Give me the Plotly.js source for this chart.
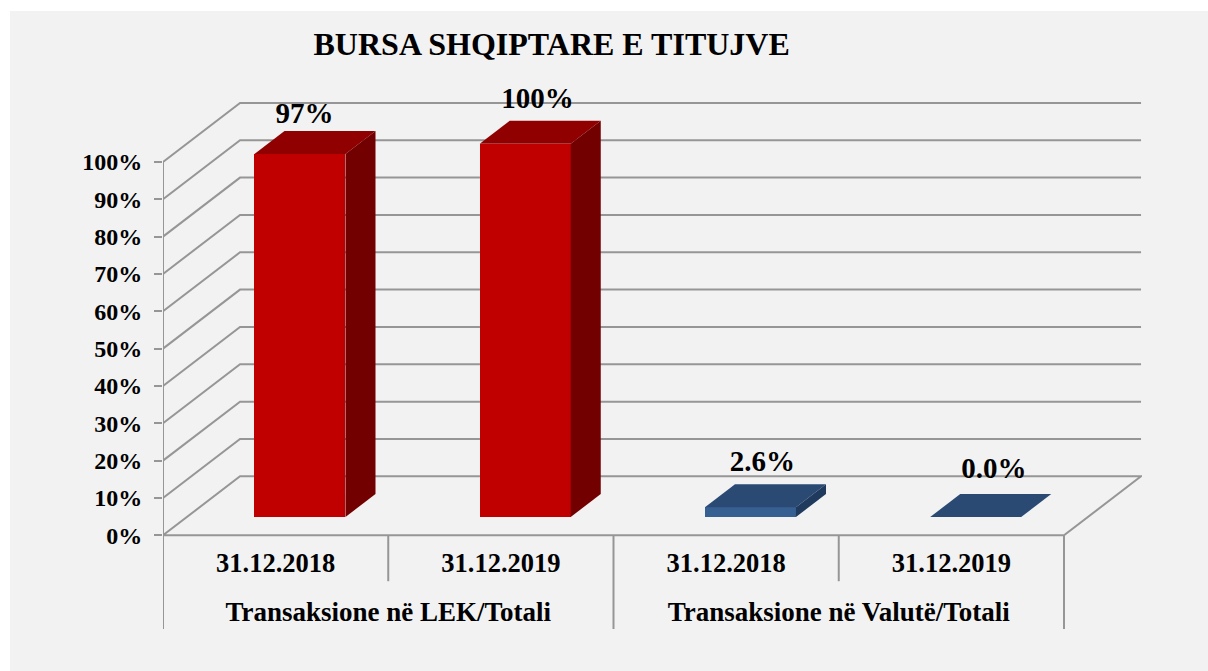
<!DOCTYPE html>
<html><head><meta charset="utf-8">
<script src="https://cdn.plot.ly/plotly-3.0.1.min.js"></script>
<style>html,body{margin:0;padding:0;background:#fff;width:1208px;height:671px;overflow:hidden}
#chart{position:absolute;left:10px;top:11px;width:1198px;height:660px}</style>
</head><body><div id="chart"></div>
<script>
const chartTitle = "BURSA SHQIPTARE E TITUJVE";
const periods = ["31.12.2018","31.12.2019","31.12.2018","31.12.2019"];
const groups = ["Transaksione në LEK/Totali","Transaksione në Valutë/Totali"];
const values = [97.2,100,2.6,0.0];
const valueLabels = ["97%","100%","2.6%","0.0%"];
const yTicks = [0,10,20,30,40,50,60,70,80,90,100];
const frontColors = ["#c00000","#c00000","#376092","#376092"];
const topColors = ["#900000","#900000","#2a4a74","#2a4a74"];
const sideColors = ["#720000","#720000","#203a5e","#203a5e"];
const labelShiftX = [-0.045,-0.01,-0.012,0.016];
const labelShiftY = [-1.5,-0.3,-0.1,0.7];

// oblique projection: depth d in 0..1 shifts a point right and up
const DX = 0.342, DY = 15.8;
const px = (c,d)=>c+DX*d;
const py = (v,d)=>v+DY*d;
const D0 = 0.31, D1 = 0.70, HALF = 0.202, BAR_SHIFT = 0.002;
const GRID = "#969696";

const shapes = [];
const line=(xs,ys,w)=>{ shapes.push({type:"path",layer:"below",xref:"x",yref:"y",
  path:xs.map((x,i)=>(i?"L":"M")+x+","+ys[i]).join(" "),line:{color:GRID,width:w||2}}); };
yTicks.forEach(v=>{ if(v>0) line([px(0,0),px(0,1),px(4,1)],[py(v,0),py(v,1),py(v,1)]); });
line([px(0,0),px(0,1),px(4,1),px(4,0),px(0,0)],[0,DY,DY,0,0]);
line([0,0],[100,-25.1]);
line([4,4],[0,-25.1]);
line([2,2],[0,-25.1]);
line([1,1],[0,-12.3]);
line([3,3],[0,-12.3]);

const traces = [];
const poly=(xs,ys,color)=>traces.push({type:"scatter",mode:"lines",x:xs.concat(xs[0]),y:ys.concat(ys[0]),
  fill:"toself",fillcolor:color,line:{width:0,color:color},hoverinfo:"skip",showlegend:false});
const cats = values.map((_,i)=>i+0.5);
// front faces: real bars lifted to the bars' depth
traces.push({type:"bar",x:cats.map(c=>px(c+BAR_SHIFT,D0)),y:values,base:values.map(()=>DY*D0),width:2*HALF,
  marker:{color:frontColors,line:{width:0}},hoverinfo:"skip",showlegend:false});
values.forEach((v,i)=>{
  const l=cats[i]+BAR_SHIFT-HALF, r=cats[i]+BAR_SHIFT+HALF;
  poly([px(l,D0),px(l,D1),px(r,D1),px(r,D0)],[py(v,D0),py(v,D1),py(v,D1),py(v,D0)],topColors[i]);
  if(v>0) poly([px(r,D0),px(r,D1),px(r,D1),px(r,D0)],[py(0,D0),py(0,D1),py(v,D1),py(v,D0)],sideColors[i]);
});
const F="Liberation Serif, Times New Roman, serif";
const txt=(x,y,t,size)=>traces.push({type:"scatter",mode:"text",x:x,y:y,text:t,textposition:"middle center",cliponaxis:false,
  textfont:{family:F,size:size,color:"#000",weight:700},hoverinfo:"skip",showlegend:false});
txt(cats.map((c,i)=>px(c,(D0+D1)/2)+labelShiftX[i]),values.map((v,i)=>py(v,D1)+5.6+labelShiftY[i]),valueLabels,29);
txt(cats,periods.map(()=>-8),periods,26.5);
txt([1,3],groups.map(()=>-21.2),groups,27);

Plotly.newPlot("chart",traces,{
  width:1198,height:660,showlegend:false,
  paper_bgcolor:"#f2f2f2",plot_bgcolor:"rgba(0,0,0,0)",
  margin:{l:153,r:66,t:62,b:42,pad:0},
  title:{text:chartTitle,font:{family:F,size:32,color:"#000",weight:700},x:0.397,xref:"paper",xanchor:"center",y:0.95,yanchor:"middle"},
  xaxis:{range:[0,979/225.25],showgrid:false,zeroline:false,showticklabels:false,ticks:"",showline:false},
  yaxis:{range:[-25.1,115.8+30/3.74],showgrid:false,zeroline:false,showline:false,tickmode:"array",tickvals:yTicks,
    ticktext:yTicks.map(v=>v+"%"),ticks:"outside",ticklen:8,tickwidth:2,tickcolor:GRID,ticklabelstandoff:7,
    tickfont:{family:F,size:24,color:"#000",weight:700}},
  shapes:shapes,bargap:0
},{displayModeBar:false,staticPlot:true});
</script></body></html>
